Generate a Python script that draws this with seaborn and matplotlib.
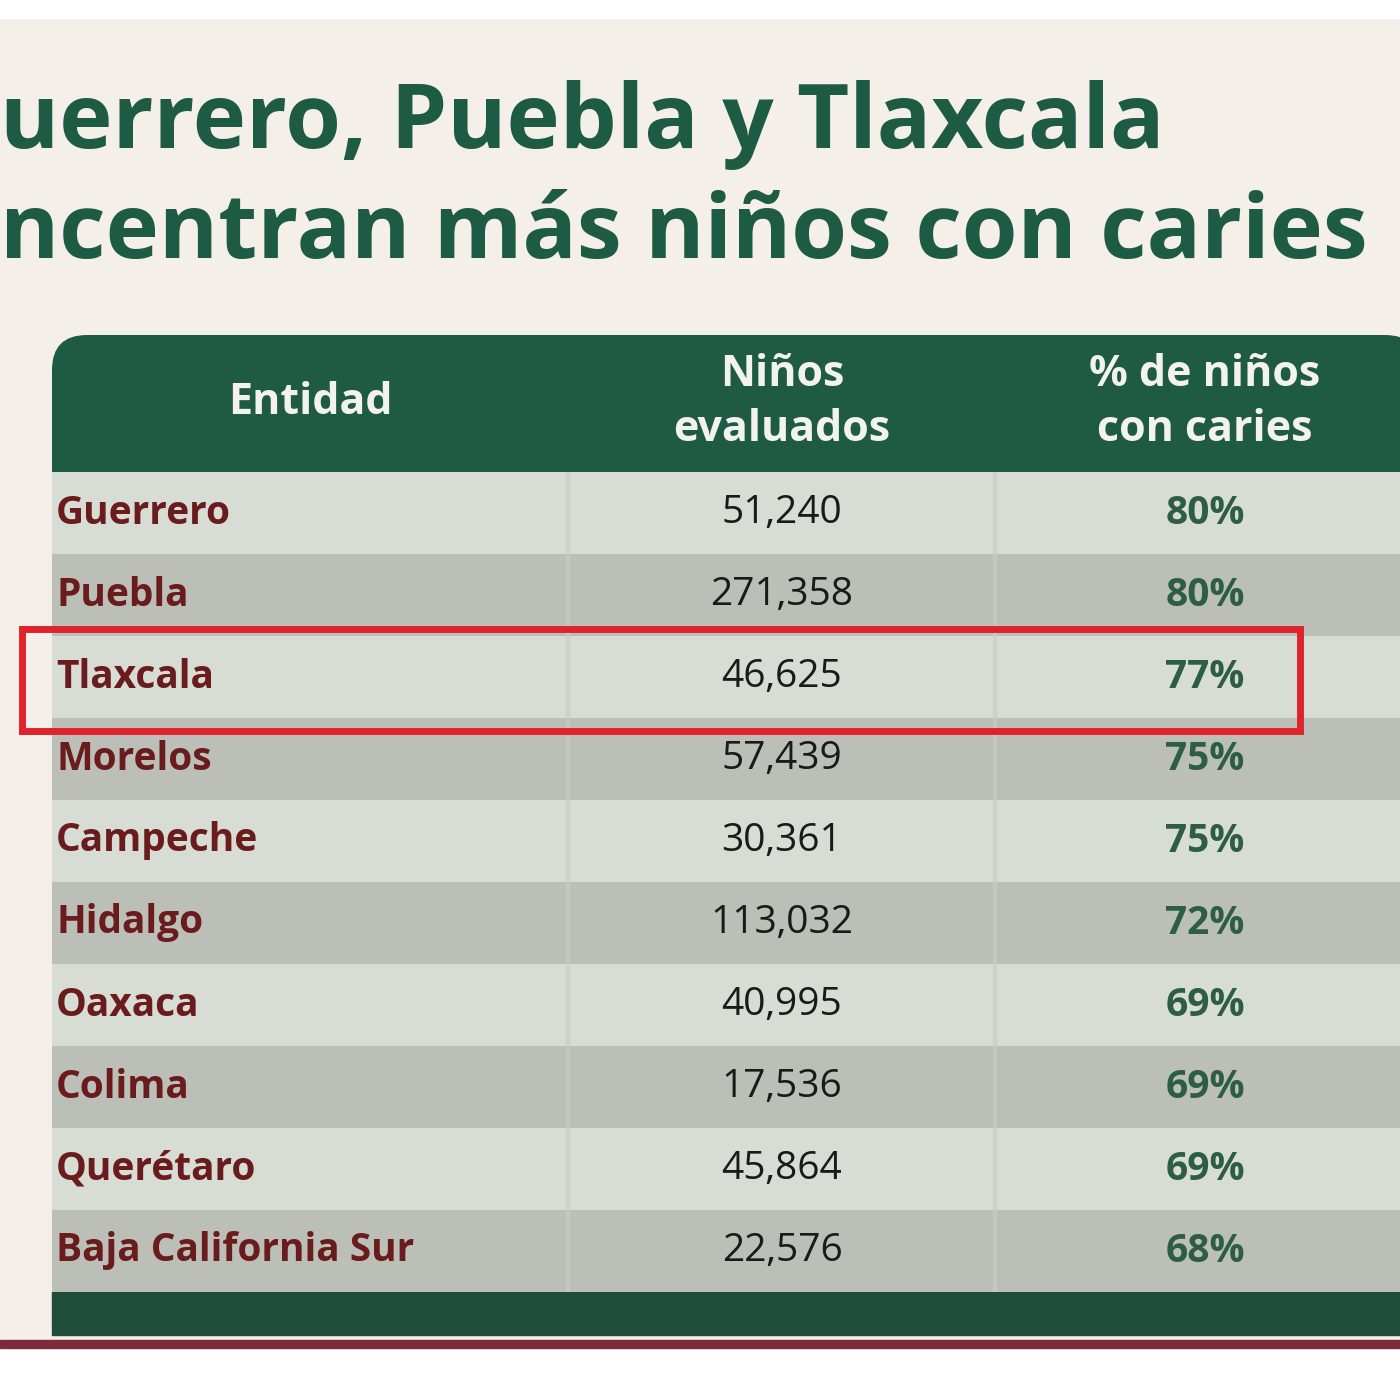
import matplotlib
matplotlib.use("Agg")
import matplotlib.pyplot as plt
from matplotlib.patches import FancyBboxPatch, Rectangle
import seaborn as sns
import numpy as np

entidades = ["Guerrero", "Puebla", "Tlaxcala", "Morelos", "Campeche", "Hidalgo",
             "Oaxaca", "Colima", "Querétaro", "Baja California Sur"]
evaluados = [51240, 271358, 46625, 57439, 30361, 113032, 40995, 17536, 45864, 22576]
pct_caries = [80, 80, 77, 75, 75, 72, 69, 69, 69, 68]
headers = ["Entidad", "Niños\nevaluados", "% de niños\ncon caries"]
title_lines = ["uerrero, Puebla y Tlaxcala", "ncentran más niños con caries"]

W = H = 1400
fig = plt.figure(figsize=(14, 14), dpi=100)
fig.patch.set_facecolor("#f4efe9")
def fx(x): return x / W
def fy(y): return 1 - y / H

FONT = "Open Sans"
GREEN = "#1d5b45"

fig.add_artist(Rectangle((0, fy(18)), 1, 18 / H, transform=fig.transFigure, color="white", zorder=0))
fig.add_artist(Rectangle((0, 0), 1, 52 / H, transform=fig.transFigure, color="white", zorder=0))
fig.add_artist(Rectangle((0, fy(1348)), 1, 8 / H, transform=fig.transFigure, color="#7b2b3b", zorder=1))

fig.text(fx(0), fy(125), title_lines[0], fontsize=65, fontweight="bold", color=GREEN,
         family=FONT, va="center", ha="left")
fig.text(fx(0), fy(235), title_lines[1], fontsize=65, fontweight="bold", color=GREEN,
         family=FONT, va="center", ha="left")

fig.add_artist(FancyBboxPatch((fx(52), fy(1335)), fx(1420 - 52), (1335 - 335) / H,
                              boxstyle="round,pad=0,rounding_size=0.025",
                              transform=fig.transFigure, facecolor="#1f5a44",
                              edgecolor="none", zorder=1))
fig.add_artist(Rectangle((fx(52), fy(1335)), fx(1400 - 52), 43 / H, transform=fig.transFigure,
                         color="#1e4d3c", zorder=1.5))

col_centers = [310, 782, 1205]
for c, h in zip(col_centers, headers):
    fig.text(fx(c), fy(402), h, fontsize=31, fontweight="bold", color="#f2f2ee",
             family=FONT, ha="center", va="center", linespacing=1.35, zorder=3)

ax = fig.add_axes([fx(52), fy(1292), fx(1400 - 52), (1292 - 472) / H])
ax.set_zorder(3)
stripe = np.array([[i % 2] for i in range(len(entidades))])
sns.heatmap(stripe, ax=ax, cmap=sns.color_palette(["#d7dcd4", "#bbbfb8"], as_cmap=True),
            cbar=False, xticklabels=False, yticklabels=False, vmin=0, vmax=1)
ax.set_xlim(0, 1)
ax.set_axis_off()
for xs in [(568 - 52) / (1400 - 52), (995 - 52) / (1400 - 52)]:
    ax.axvline(xs, color="#c9cdc5", lw=3, alpha=0.7)

for i, (e, n, p) in enumerate(zip(entidades, evaluados, pct_caries)):
    y = i + 0.5
    ax.text(0.003, y, e, fontsize=28, fontweight="bold", color="#6a1c1c", family=FONT,
            ha="left", va="center")
    ax.text((782 - 52) / 1348, y, f"{n:,}", fontsize=28, color="#1a1a1a", family=FONT,
            ha="center", va="center")
    ax.text((1205 - 52) / 1348, y, f"{p}%", fontsize=28, fontweight="bold", color="#2d5d47",
            family=FONT, ha="center", va="center")

fig.add_artist(Rectangle((fx(22), fy(731)), fx(1300 - 22), (731 - 629) / H,
                         transform=fig.transFigure, fill=False, edgecolor="#e0232b",
                         lw=5, zorder=5))

fig.savefig("out.png", dpi=100, facecolor=fig.get_facecolor())
